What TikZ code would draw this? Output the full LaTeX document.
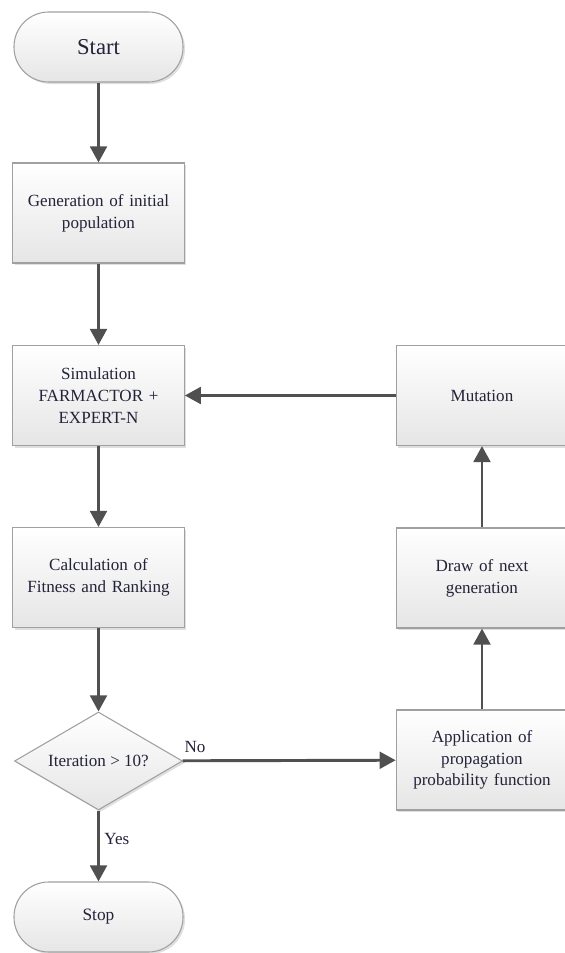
\documentclass[tikz,border=0pt]{standalone}
\usepackage{fontspec}
\setmainfont{Liberation Serif}
\usetikzlibrary{shapes.geometric,arrows.meta,shadows}

\definecolor{linegray}{HTML}{505050}
\definecolor{edgegray}{HTML}{A0A0A0}
\definecolor{inkblue}{HTML}{23233A}

\tikzset{
  boxbase/.style={draw=edgegray, line width=0.8pt, top color=white, bottom color=black!10,
    text=inkblue, align=center, font=\fontsize{12.8}{16.3}\selectfont,
    drop shadow={opacity=0.25, shadow xshift=1.5pt, shadow yshift=-1.5pt}},
  term/.style={boxbase, rectangle, rounded corners=26pt, minimum width=126.75pt, minimum height=52.5pt},
  proc/.style={boxbase, rectangle, minimum width=126.75pt, minimum height=75pt, text width=122pt},
  decision/.style={boxbase, diamond, aspect=1.7, inner sep=0pt, minimum width=126pt, minimum height=73.5pt},
  flow/.style={draw=linegray, line width=2.2pt, -{Triangle[width=12.5pt,length=12pt]}},
  lbl/.style={text=inkblue, font=\fontsize{12.8}{15}\selectfont}
}

\begin{document}
\begin{tikzpicture}[x=0.75pt, y=-0.75pt]
    % Frame
    \useasboundingbox (0,0) rectangle (564,953);

    % Left column
    \node[term, font=\fontsize{17}{20}\selectfont] (start) at (98.5,47) {Start};
    \node[proc] (init) at (98.5,213) {Generation of initial\\population};
    \node[proc] (sim) at (98.5,395.5) {Simulation\\FARMACTOR +\\EXPERT-N};
    \node[proc] (fit) at (98.5,577.5) {Calculation of\\Fitness and Ranking};
    \node[decision] (iter) at (98.5,761) {Iteration > 10?};
    \node[term, font=\fontsize{13}{15}\selectfont] (stop) at (98.5,917) {Stop};

    % Right column
    \node[proc] (mut) at (482,395.5) {Mutation};
    \node[proc] (next) at (482,578) {Draw of next\\generation};
    \node[proc] (prop) at (482,760) {Application of\\propagation\\probability function};

    % Connectors
    \draw[flow] (start) -- (init);
    \draw[flow] (init) -- (sim);
    \draw[flow] (sim) -- (fit);
    \draw[flow] (fit) -- (iter);
    \draw[flow] (iter) -- node[lbl, right, pos=0.4] {Yes} (stop);
    \draw[flow] (iter) -- node[lbl, above right, pos=0, xshift=-3pt, yshift=2pt] {No} (prop);
    \draw[flow] (prop) -- (next);
    \draw[flow] (next) -- (mut);
    \draw[flow] (mut) -- (sim);
\end{tikzpicture}
\end{document}
